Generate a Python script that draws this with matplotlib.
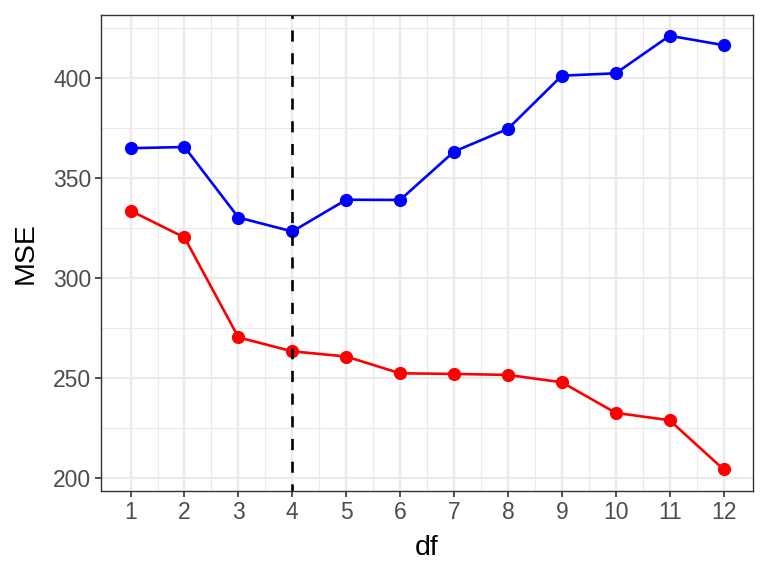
import numpy as np
import matplotlib.pyplot as plt

df = [1, 2, 3, 4, 5, 6, 7, 8, 9, 10, 11, 12]
mse_test = [365.0, 365.6, 330.3, 323.3, 339.2, 339.1, 363.3, 374.7, 401.3, 402.5, 421.3, 416.6]
mse_train = [333.7, 320.3, 270.3, 263.3, 260.7, 252.3, 252.0, 251.5, 247.8, 232.5, 228.8, 204.2]
best_df = 4

plt.rcParams["font.family"] = ["Liberation Sans", "DejaVu Sans"]

fig = plt.figure(figsize=(7.68, 5.76), dpi=100)
ax = fig.add_axes([0.132, 0.148, 0.848, 0.826])

ax.set_xlim(0.458, 12.54)
ax.set_ylim(193.5, 431.7)

# ggplot theme_bw style grid
ax.set_xticks(df)
ax.set_xticks(np.arange(1.5, 12, 1), minor=True)
ax.set_yticks([200, 250, 300, 350, 400])
ax.set_yticks([225, 275, 325, 375, 425], minor=True)
ax.grid(which="major", color="#EBEBEB", linewidth=1.6)
ax.grid(which="minor", color="#EBEBEB", linewidth=0.8)
ax.set_axisbelow(True)
for s in ax.spines.values():
  s.set_color("#333333")
  s.set_linewidth(1.0)
ax.tick_params(which="major", length=4.3, width=1.2, color="#333333", labelsize=16.5,
               labelcolor="#4D4D4D", pad=3)
ax.tick_params(which="minor", length=0)

ax.plot(df, mse_test, color="blue", linewidth=1.9, marker="o", markersize=8.5)
ax.plot(df, mse_train, color="red", linewidth=1.9, marker="o", markersize=8.5)
ax.axvline(best_df, color="black", linestyle=(1.5, (4.2, 4.4)), linewidth=1.9)

ax.set_xlabel("df", fontsize=20.5, labelpad=8)
ax.set_ylabel("MSE", fontsize=20.5, labelpad=10)

fig.savefig("out.png")
